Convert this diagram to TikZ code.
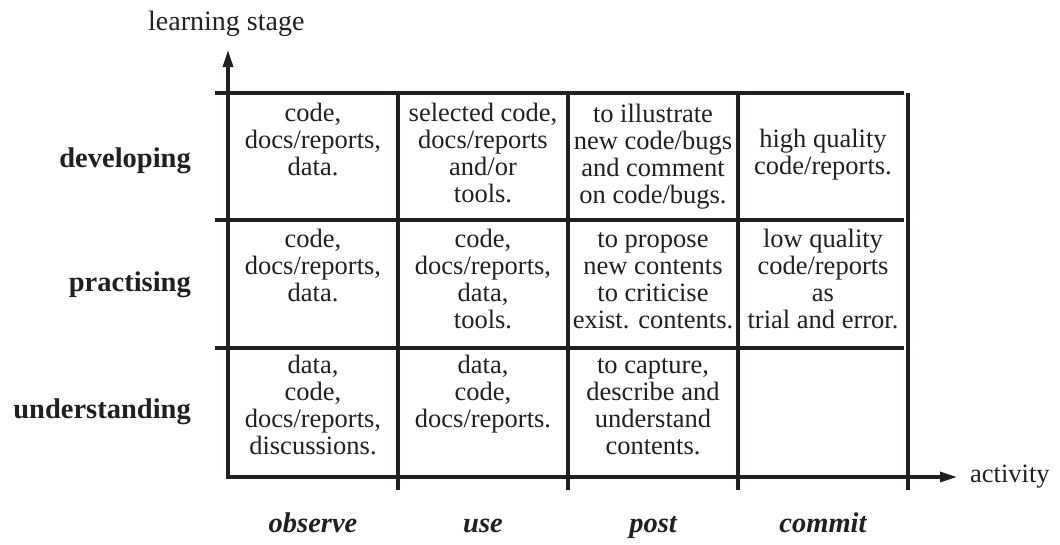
\documentclass[tikz,border=0pt]{standalone}
\usepackage{fontspec}
\setmainfont{Liberation Serif}
\usetikzlibrary{arrows.meta}

\definecolor{ink}{RGB}{35,31,32}

% multi-line cell text whose reference point is the first baseline
\newcommand{\celltext}[1]{\begin{tabular}[t]{@{}c@{}}#1\end{tabular}}

\tikzset{
  rule/.style={line width=3.2pt, draw=ink, line cap=butt},
  axis/.style={rule, line join=miter, {Triangle[length=17pt,width=10pt]}-{Triangle[length=17pt,width=10pt]}},
  celltxt/.style={anchor=base, inner sep=0pt, text=ink,
    font=\fontsize{26.5}{27}\selectfont},
  stagelbl/.style={anchor=base east, inner sep=0pt, text=ink,
    font=\fontsize{28.5}{30}\selectfont\bfseries},
  actlbl/.style={anchor=base, inner sep=0pt, text=ink,
    font=\fontsize{28.5}{30}\selectfont\bfseries\itshape},
  axislbl/.style={anchor=base west, inner sep=0pt, text=ink,
    font=\fontsize{26.5}{27}\selectfont},
}

\begin{document}
\begin{tikzpicture}[x=1pt, y=-1pt]
\useasboundingbox (0,0) rectangle (1060,544);

% axes
\coordinate (ytip) at (228,50);
\coordinate (origin) at (228,477);
\coordinate (xtip) at (957,477);
\draw[axis] (ytip) |- (xtip);

% horizontal row rules
\foreach \y in {93,220,348}
  \draw[rule] (215,\y) -- (904,\y);

% column rules with ticks below the activity axis
\foreach \x in {398,568,738}
  \draw[rule] (\x,93) -- (\x,490);
\draw[rule] (908,93) -- (908,490);

% axis titles
\node[axislbl, font=\fontsize{28}{29}\selectfont] (ytitle) at (148,30) {learning stage};
\node[axislbl] (xtitle) at (970,482) {activity};

% learning stages
\node[stagelbl] (developing) at (191,167) {developing};
\node[stagelbl] (practising) at (191,291) {practising};
\node[stagelbl] (understanding) at (191,418) {understanding};

% activities
\node[actlbl] (observe) at (313,532) {observe};
\node[actlbl] (use) at (483,532) {use};
\node[actlbl] (post) at (653,532) {post};
\node[actlbl] (commit) at (823,532) {commit};

% developing
\node[celltxt] (d1) at (313,121) {\celltext{code,\\docs/reports,\\data.}};
\node[celltxt] (d2) at (483,121) {\celltext{selected code,\\docs/reports\\and/or\\tools.}};
\node[celltxt] (d3) at (653,122) {\celltext{to illustrate\\new code/bugs\\and comment\\on code/bugs.}};
\node[celltxt] (d4) at (823,147) {\celltext{high quality\\code/reports.}};

% practising
\node[celltxt] (p1) at (313,247) {\celltext{code,\\docs/reports,\\data.}};
\node[celltxt] (p2) at (483,247) {\celltext{code,\\docs/reports,\\data,\\tools.}};
\node[celltxt] (p3) at (653,247) {\celltext{to propose\\new contents\\to criticise\\exist. contents.}};
\node[celltxt] (p4) at (823,247) {\celltext{low quality\\code/reports\\as\\trial and error.}};

% understanding
\node[celltxt] (u1) at (313,373) {\celltext{data,\\code,\\docs/reports,\\discussions.}};
\node[celltxt] (u2) at (483,373) {\celltext{data,\\code,\\docs/reports.}};
\node[celltxt] (u3) at (653,373) {\celltext{to capture,\\describe and\\understand\\contents.}};
\end{tikzpicture}
\end{document}
